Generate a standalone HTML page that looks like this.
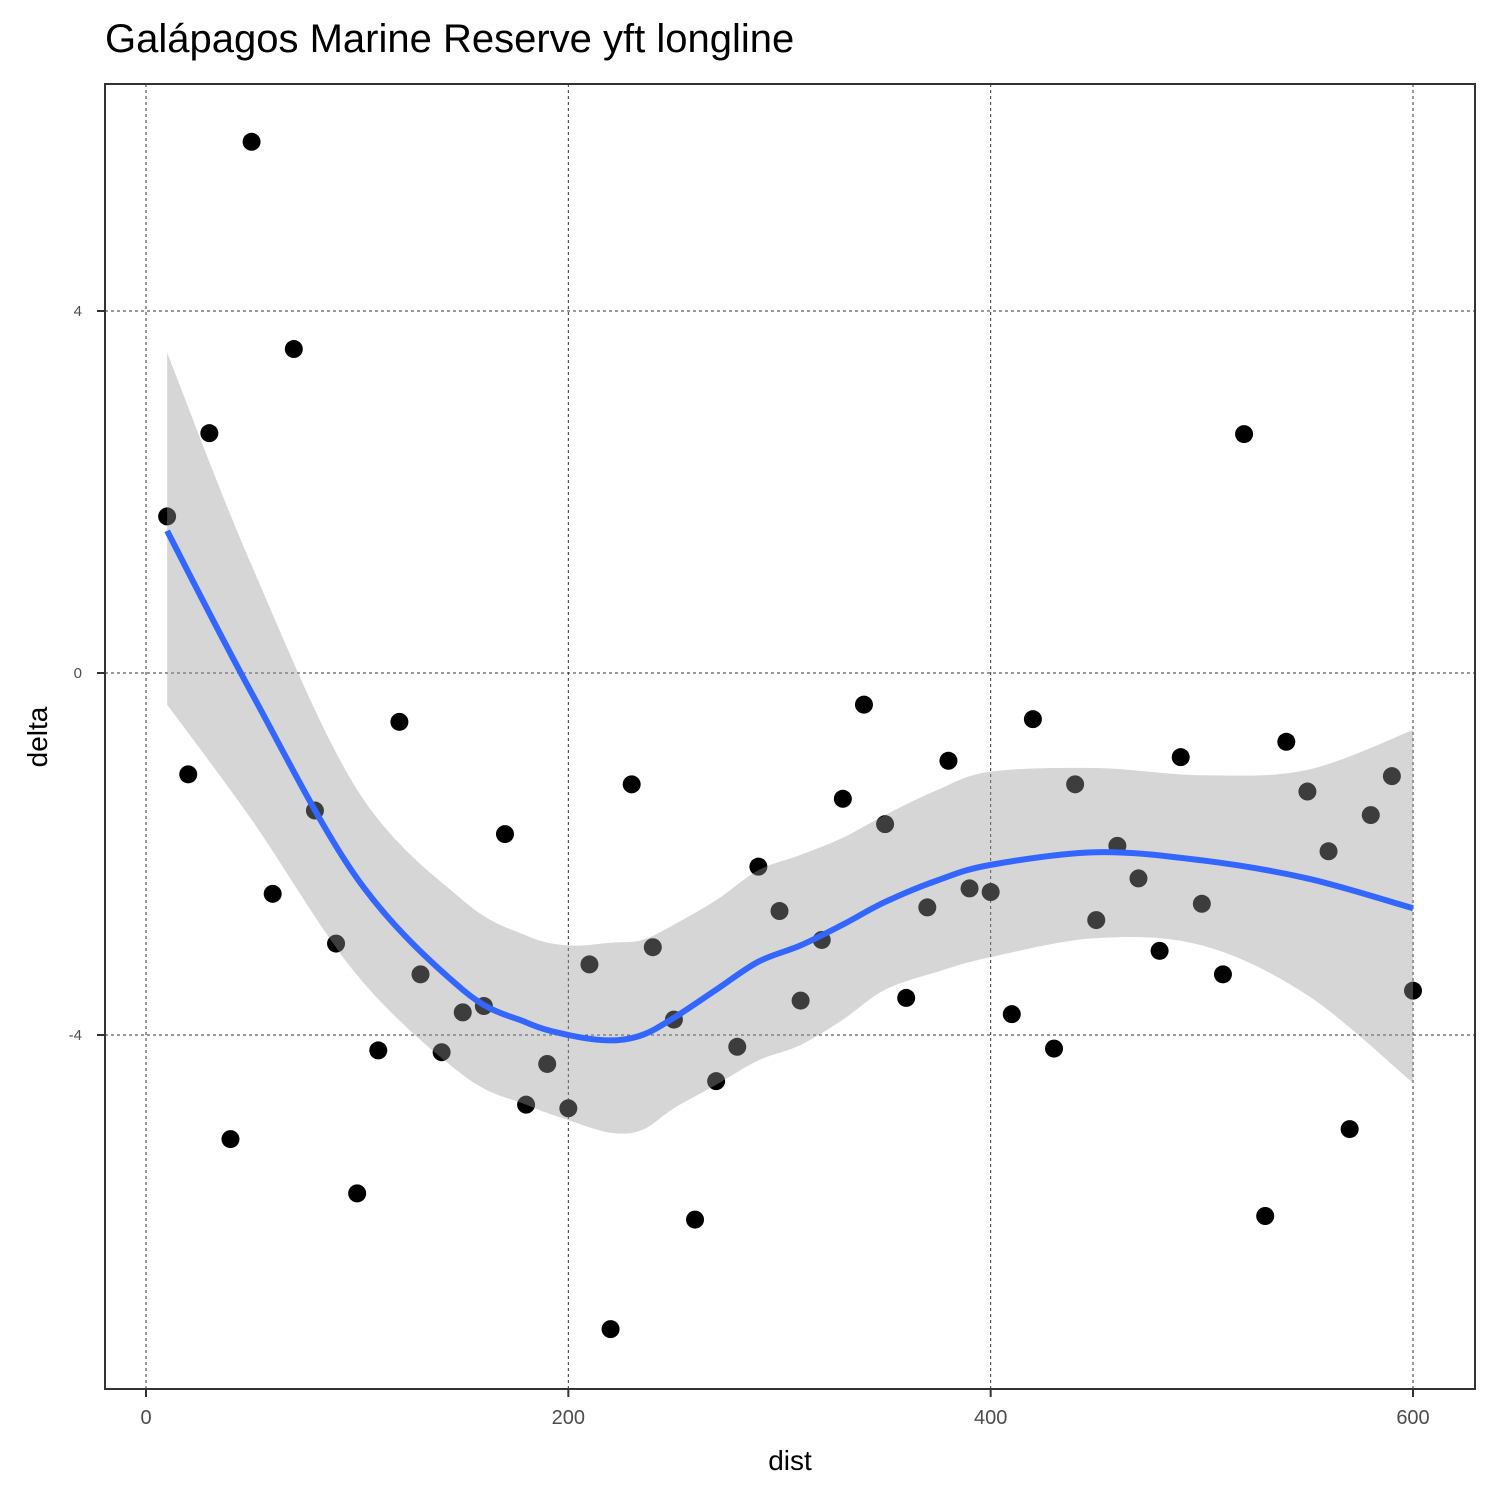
<!DOCTYPE html>
<html><head><meta charset="utf-8"><style>
html,body{margin:0;padding:0;background:#fff;}
svg text{font-family:"Liberation Sans",Arial,sans-serif;}
</style></head><body>
<svg id="chart" width="1500" height="1500" xmlns="http://www.w3.org/2000/svg">
<text x="105" y="52" font-size="40" fill="#000">Galápagos Marine Reserve yft longline</text>
<g id="grid"></g>
<g id="pts"></g>
<g id="smooth"></g>
<rect x="105" y="84" width="1370" height="1305" fill="none" stroke="#333" stroke-width="2"/>
<g id="axes"></g>
<text x="790" y="1470" font-size="28" text-anchor="middle">dist</text>
<text x="47" y="737" font-size="28" text-anchor="middle" transform="rotate(-90 47 737)">delta</text>
</svg>
<script>
const xs = [10,20,30,40,50,60,70,80,90,100,110,120,130,140,150,160,170,180,190,200,210,220,230,240,250,260,270,280,290,300,310,320,330,340,350,360,370,380,390,400,410,420,430,440,450,460,470,480,490,500,510,520,530,540,550,560,570,580,590,600];
const ys = [1.73,-1.12,2.65,-5.15,5.87,-2.44,3.58,-1.52,-2.99,-5.75,-4.17,-0.54,-3.33,-4.19,-3.75,-3.68,-1.78,-4.77,-4.32,-4.81,-3.22,-7.25,-1.23,-3.03,-3.83,-6.04,-4.51,-4.13,-2.14,-2.63,-3.62,-2.95,-1.39,-0.35,-1.67,-3.59,-2.59,-0.97,-2.38,-2.42,-3.77,-0.51,-4.15,-1.23,-2.73,-1.91,-2.27,-3.07,-0.93,-2.55,-3.33,2.64,-6.00,-0.76,-1.31,-1.97,-5.04,-1.57,-1.14,-3.51];
const fitX = [10,50,100,150,180,200,220,235,250,270,290,310,330,350,375,400,450,500,550,600];
const fitY = [1.57,-0.22,-2.27,-3.50,-3.86,-4.0,-4.06,-4.0,-3.81,-3.50,-3.19,-3.01,-2.78,-2.53,-2.29,-2.12,-1.98,-2.07,-2.27,-2.60];
const fitHi = [3.54,1.19,-1.29,-2.51,-2.90,-3.01,-2.98,-2.95,-2.78,-2.51,-2.18,-2.01,-1.82,-1.57,-1.29,-1.09,-1.05,-1.13,-1.07,-0.63];
const fitLo = [-0.35,-1.62,-3.34,-4.44,-4.77,-4.94,-5.08,-5.05,-4.81,-4.55,-4.28,-4.11,-3.83,-3.50,-3.30,-3.14,-2.93,-3.01,-3.56,-4.53];
const xTicks = [0,200,400,600];
const yTicks = [4,0,-4];

const X = v => 146 + v*(1413-146)/600;
const Y = v => 673 - v*90.5;
const NS = "http://www.w3.org/2000/svg";
function mk(tag, parent, attrs){const e=document.createElementNS(NS,tag);for(const k in attrs)e.setAttribute(k,attrs[k]);document.getElementById(parent).appendChild(e);return e;}
function spline(px,py){let d="M"+px[0]+","+py[0];for(let i=0;i<px.length-1;i++){const p0=i>0?i-1:i,p3=i+2<px.length?i+2:i+1;const c1x=px[i]+(px[i+1]-px[p0])/6,c1y=py[i]+(py[i+1]-py[p0])/6;const c2x=px[i+1]-(px[p3]-px[i])/6,c2y=py[i+1]-(py[p3]-py[i])/6;d+=` C${c1x},${c1y} ${c2x},${c2y} ${px[i+1]},${py[i+1]}`;}return d;}

xTicks.forEach(t=>{
  const l=mk('line','grid',{x1:X(t),x2:X(t),y1:84,y2:1389,stroke:'#333','stroke-width':1,'stroke-dasharray':'3,3'});
  
  
  const tk=mk('line','axes',{x1:X(t),x2:X(t),y1:1389,y2:1397,stroke:'#333','stroke-width':2});
  
  
  const tx=mk('text','axes',{x:X(t),y:1424,'font-size':20,fill:'#4d4d4d','text-anchor':'middle'});
  tx.textContent=t;
  
  
});
yTicks.forEach(t=>{
  const l=mk('line','grid',{x1:105,x2:1475,y1:Y(t),y2:Y(t),stroke:'#333','stroke-width':1,'stroke-dasharray':'3,3'});
  
  
  const tk=mk('line','axes',{x1:97,x2:105,y1:Y(t),y2:Y(t),stroke:'#333','stroke-width':2});
  
  
  const tx=mk('text','axes',{x:82,y:Y(t)+5,'font-size':15,fill:'#4d4d4d','text-anchor':'end'});
  tx.textContent=t;
  
  
});
xs.forEach((v,i)=>{
  const c=mk('circle','pts',{cx:X(v),cy:Y(ys[i]),r:9,fill:'#000'});
  
  
});
const px=fitX.map(X);
const hi=spline(px,fitHi.map(Y));
const loRevX=px.slice().reverse(), loRevY=fitLo.map(Y).reverse();
const lo=spline(loRevX,loRevY).replace(/^M/,' L');
const band=mk('path','smooth',{d:hi+lo+' Z',fill:'#999','fill-opacity':0.4});


const line=mk('path','smooth',{d:spline(px,fitY.map(Y)),fill:'none',stroke:'#3366FF','stroke-width':6});


</script>
</body></html>
